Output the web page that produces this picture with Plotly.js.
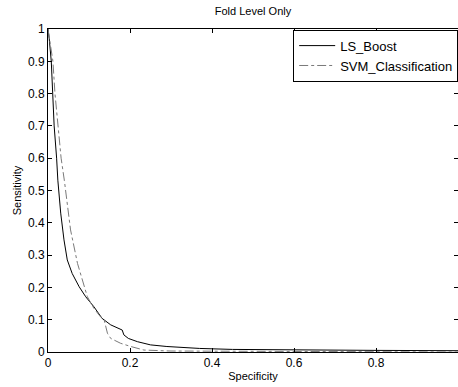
<!DOCTYPE html>
<html>
<head>
<meta charset="utf-8">
<script src="https://cdn.plot.ly/plotly-3.0.1.min.js"></script>
<style>
html,body{margin:0;padding:0;overflow:hidden;background:#fff;}
#chart{width:460px;height:387px;}
</style>
</head>
<body>
<div id="chart"></div>
<script>
const lsBoostSpecificity = [0, 0.003, 0.008, 0.011, 0.015, 0.021, 0.024, 0.031, 0.039, 0.047, 0.059, 0.076, 0.092, 0.112, 0.132, 0.153, 0.181, 0.185, 0.196, 0.218, 0.25, 0.29, 0.37, 0.45, 0.6, 0.8, 1];
const lsBoostSensitivity = [1, 0.97, 0.9, 0.8, 0.7, 0.6, 0.532, 0.43, 0.347, 0.285, 0.243, 0.202, 0.171, 0.14, 0.104, 0.084, 0.068, 0.053, 0.042, 0.032, 0.022, 0.017, 0.011, 0.008, 0.006, 0.005, 0.004];

const svmSpecificity = [0, 0.004, 0.012, 0.017, 0.024, 0.032, 0.04, 0.055, 0.072, 0.084, 0.096, 0.112, 0.128, 0.137, 0.145, 0.153, 0.177, 0.202, 0.234, 0.3, 0.5, 0.7, 1];
const svmSensitivity = [1, 0.97, 0.9, 0.8, 0.7, 0.6, 0.53, 0.378, 0.274, 0.223, 0.171, 0.135, 0.109, 0.099, 0.058, 0.042, 0.027, 0.017, 0.006, 0.003, 0.002, 0.001, 0];

const xTicks = [0, 0.2, 0.4, 0.6, 0.8, 1];
const xTickLabels = ['0', '0.2', '0.4', '0.6', '0.8', '1'];
const yTicks = [0, 0.1, 0.2, 0.3, 0.4, 0.5, 0.6, 0.7, 0.8, 0.9, 1];
const yTickLabels = ['0', '0.1', '0.2', '0.3', '0.4', '0.5', '0.6', '0.7', '0.8', '0.9', '1'];

const fam = 'Liberation Sans, Arial, sans-serif';
const font11 = {family: fam, size: 11, color: '#000'};
const font12 = {family: fam, size: 12, color: '#000'};
const font13 = {family: fam, size: 13, color: '#000'};

const traces = [
  {x: lsBoostSpecificity, y: lsBoostSensitivity, name: 'LS_Boost', mode: 'lines',
   line: {color: '#000', width: 1, dash: 'solid'}},
  {x: svmSpecificity, y: svmSensitivity, name: 'SVM_Classification', mode: 'lines',
   line: {color: '#7a7a7a', width: 1, dash: 'dashdot'}}
];

const axisCommon = {
  showline: true, linecolor: '#000', linewidth: 1, mirror: 'ticks',
  ticks: 'inside', ticklen: 4, tickcolor: '#000', tickwidth: 1,
  showgrid: false, zeroline: false, tickfont: font12
};

const layout = {
  width: 460, height: 387,
  margin: {l: 48, r: 2, t: 29, b: 35},
  paper_bgcolor: '#fff', plot_bgcolor: '#fff',
  font: font12,
  title: {text: 'Fold Level Only', font: font11, x: 0.5, xref: 'paper', y: 0.972, yanchor: 'middle'},
  xaxis: Object.assign({}, axisCommon, {
    range: [0, 1], tickvals: xTicks, ticktext: xTickLabels,
    title: {text: 'Specificity', font: font11, standoff: 2}
  }),
  yaxis: Object.assign({}, axisCommon, {
    range: [0, 1], tickvals: yTicks, ticktext: yTickLabels,
    title: {text: 'Sensitivity', font: font11, standoff: 4}
  }),
  legend: {x: 0.598, y: 0.998, xanchor: 'left', yanchor: 'top',
    bordercolor: '#000', borderwidth: 1, bgcolor: '#fff', font: font13,
    tracegroupgap: 0, itemwidth: 36},
  showlegend: true
};

Plotly.newPlot('chart', traces, layout, {displayModeBar: false, staticPlot: true});
</script>
</body>
</html>
